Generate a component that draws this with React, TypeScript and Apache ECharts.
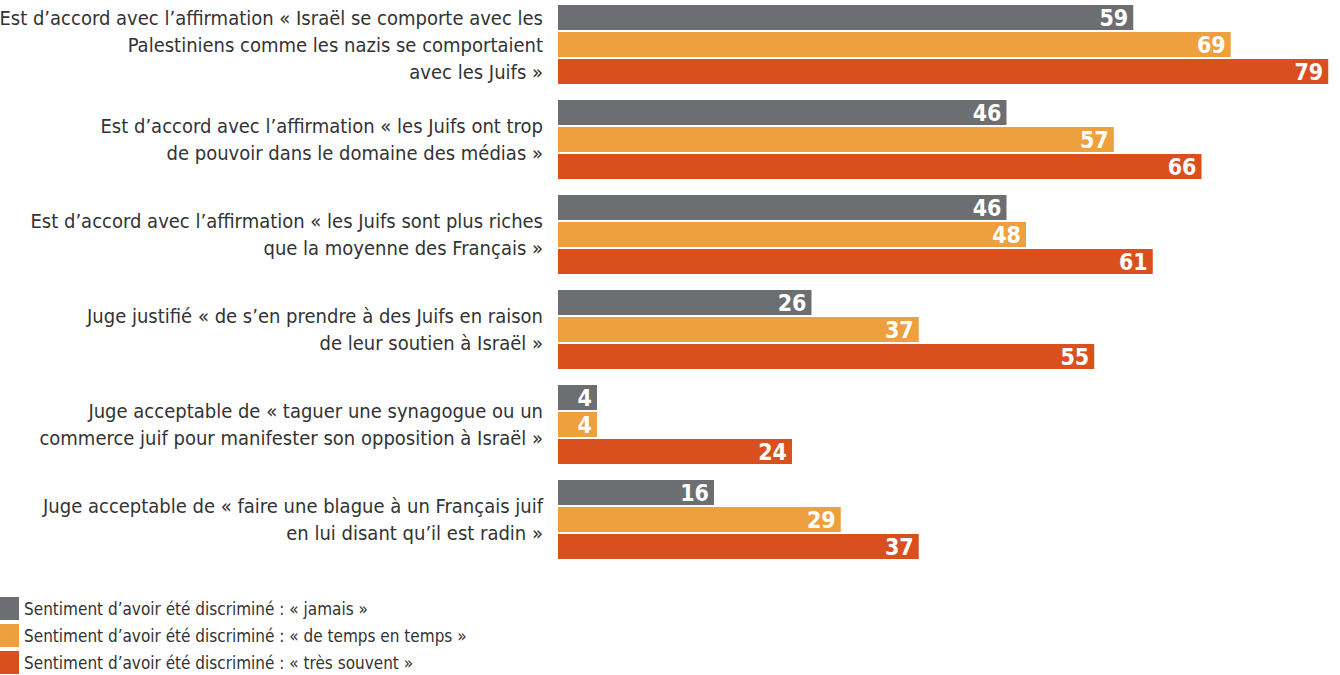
import React, { useEffect, useRef } from "react";
import * as echarts from "echarts";

const categories = [
  "Est d’accord avec l’affirmation « Israël se comporte avec les\nPalestiniens comme les nazis se comportaient\navec les Juifs »",
  "Est d’accord avec l’affirmation « les Juifs ont trop\nde pouvoir dans le domaine des médias »",
  "Est d’accord avec l’affirmation « les Juifs sont plus riches\nque la moyenne des Français »",
  "Juge justifié « de s’en prendre à des Juifs en raison\nde leur soutien à Israël »",
  "Juge acceptable de « taguer une synagogue ou un\ncommerce juif pour manifester son opposition à Israël »",
  "Juge acceptable de « faire une blague à un Français juif\nen lui disant qu’il est radin »",
];

const seriesNames = [
  "Sentiment d’avoir été discriminé : « jamais »",
  "Sentiment d’avoir été discriminé : « de temps en temps »",
  "Sentiment d’avoir été discriminé : « très souvent »",
];

const jamais = [59, 46, 46, 26, 4, 16];
const deTempsEnTemps = [69, 57, 48, 37, 4, 29];
const tresSouvent = [79, 66, 61, 55, 24, 37];

const colors = ["#6d6e71", "#eea03f", "#d9501e"];

const FONT = '"DejaVu Sans Condensed", "Liberation Sans Narrow", sans-serif';

export default function App() {
  const ref = useRef<HTMLDivElement>(null);
  useEffect(() => {
    document.body.style.margin = "0";
    if (!ref.current) return;
    const chart = echarts.init(ref.current, null, { renderer: "svg" });
    const data = [jamais, deTempsEnTemps, tresSouvent];
    chart.setOption({
      animation: false,
      textStyle: { fontFamily: FONT },
      grid: {
        left: 558,
        right: 2,
        top: -3,
        height: 570,
        outerBoundsMode: "none",
        containLabel: false,
      },
      legend: {
        orient: "vertical",
        left: 0,
        top: 597,
        padding: 0,
        itemWidth: 19,
        itemHeight: 23,
        itemGap: 4,
        icon: "rect",
        textStyle: { fontSize: 17, color: "#333", fontFamily: FONT },
        data: seriesNames,
      },
      xAxis: {
        type: "value",
        min: 0,
        max: 80,
        show: false,
      },
      yAxis: {
        type: "category",
        inverse: true,
        data: categories,
        axisLine: { show: false },
        axisTick: { show: false },
        axisLabel: {
          margin: 15,
          fontSize: 20,
          lineHeight: 27,
          color: "#333",
          fontFamily: FONT,
        },
      },
      series: data.map((d, i) => ({
        name: seriesNames[i],
        type: "bar",
        data: d,
        barWidth: 25,
        barGap: "8%",
        itemStyle: { color: colors[i] },
        label: {
          show: true,
          position: "insideRight",
          distance: 5,
          color: "#fff",
          fontWeight: "bold",
          fontSize: 23,
          fontFamily: FONT,
        },
      })),
    });
    return () => chart.dispose();
  }, []);
  return <div ref={ref} style={{ width: 1340, height: 675 }} />;
}
